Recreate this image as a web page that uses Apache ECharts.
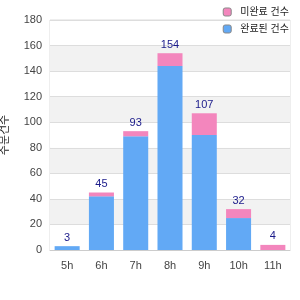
<!DOCTYPE html>
<html>
<head>
<meta charset="utf-8">
<style>
  html, body { margin: 0; padding: 0; background: #fff; }
  #chart { width: 300px; height: 300px; }
</style>
<script src="https://cdn.jsdelivr.net/npm/echarts@6/dist/echarts.min.js"></script>
</head>
<body>
<div id="chart"></div>
<script>
// 시간대
const hours = ['5h', '6h', '7h', '8h', '9h', '10h', '11h'];
// 완료 건수 (파랑)
const doneCounts = [3, 42, 89, 144, 90, 25, 0];
// 미완료 건수 (분홍)
const pendingCounts = [0, 3, 4, 10, 17, 7, 4];
// 합계 라벨
const totals = [3, 45, 93, 154, 107, 32, 4];

const chart = echarts.init(document.getElementById('chart'), null, { renderer: 'canvas' });

const font = 'Arial, "Liberation Sans", "Noto Sans CJK KR", sans-serif';

chart.setOption({
    animation: false,
    textStyle: { fontFamily: font },
    legend: {
        orient: 'vertical',
        right: 6,
        top: 2,
        itemWidth: 8,
        itemHeight: 8,
        itemGap: 7,
        data: ['미완료 건수', '완료된 건수'],
        textStyle: { fontSize: 10, color: '#222', fontFamily: font, padding: [0, 0, 0, 4] },
        itemStyle: { borderColor: '#888', borderWidth: 1 }
    },
    grid: {
        left: 50,
        right: 10,
        top: 20,
        bottom: 50,
        outerBoundsMode: 'none',
        containLabel: false,
        show: true,
        borderColor: '#ddd',
        borderWidth: 1,
        backgroundColor: 'transparent'
    },
    xAxis: {
        type: 'category',
        data: hours,
        axisLine: { lineStyle: { color: '#ccc' } },
        axisTick: { show: false },
        axisLabel: { color: '#444', fontSize: 11, margin: 10 }
    },
    yAxis: {
        type: 'value',
        min: 0,
        max: 180,
        interval: 20,
        name: '주문건수',
        nameLocation: 'middle',
        nameGap: 40,
        nameTextStyle: { fontSize: 11, color: '#222' },
        axisLine: { show: false },
        axisTick: { show: false },
        axisLabel: { color: '#444', fontSize: 11, margin: 8 },
        splitLine: { lineStyle: { color: '#ddd' } },
        splitArea: { show: true, areaStyle: { color: ['#ffffff', '#f2f2f2'] } }
    },
    series: [
        {
            name: '완료된 건수',
            type: 'bar',
            stack: 'total',
            barCategoryGap: '27%',
            itemStyle: { color: '#62a9f5' },
            data: doneCounts
        },
        {
            name: '미완료 건수',
            type: 'bar',
            stack: 'total',
            itemStyle: { color: '#f386bd' },
            label: {
                show: true,
                position: 'top',
                distance: 3,
                color: '#1a1a8a',
                fontSize: 11,
                formatter: p => totals[p.dataIndex]
            },
            data: pendingCounts
        }
    ]
});
</script>
</body>
</html>
